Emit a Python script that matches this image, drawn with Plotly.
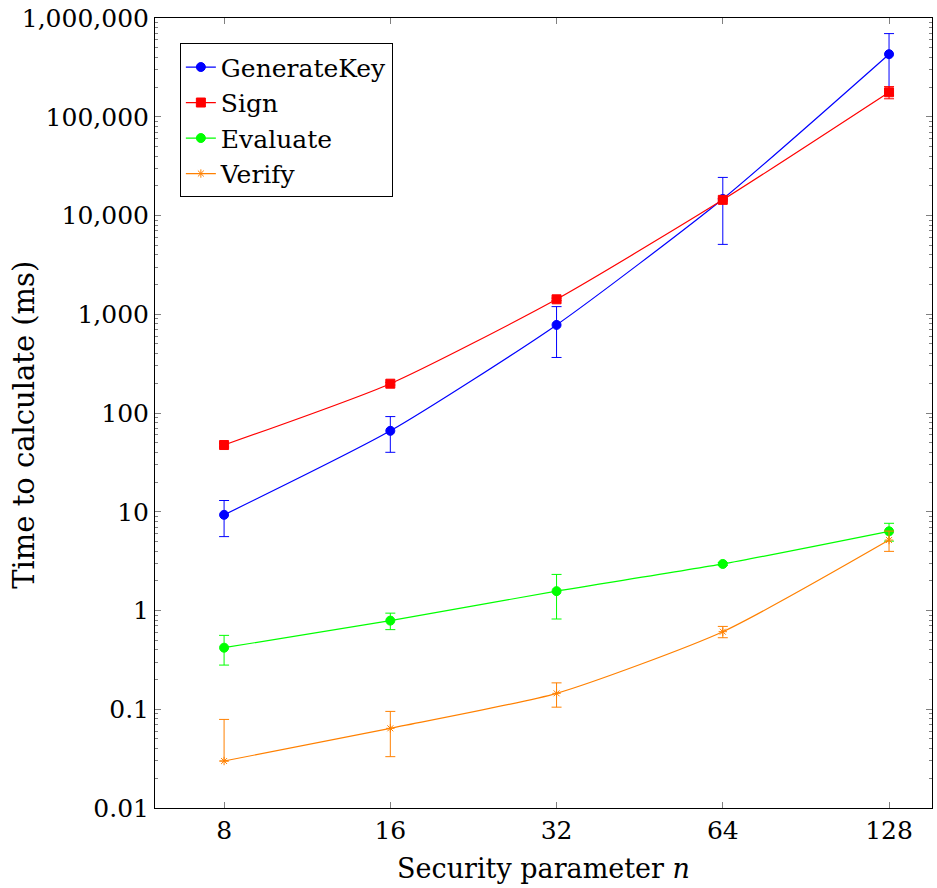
import plotly.graph_objects as go

n_vals = [8, 16, 32, 64, 128]

gen_key = [9.3, 66, 780, 14700, 430000]
gen_key_err = [3.7, 26, 415, 9600, 265000]

sign = [47.4, 198, 1417, 14400, 177000]
sign_err = [2, 6, 40, 400, 25000]

evaluate = [0.42, 0.79, 1.57, 2.96, 6.34]
evaluate_err = [0.14, 0.15, 0.75, 0.1, 1.3]

verify = [0.0299, 0.0641, 0.145, 0.61, 5.17]
verify_err_plus = [0.049, 0.031, 0.04, 0.08, 1.2]
verify_err_minus = [0.0, 0.031, 0.04, 0.08, 1.2]

y_tickvals = [0.01, 0.1, 1, 10, 100, 1000, 10000, 100000, 1000000]
y_ticktext = ["0.01", "0.1", "1", "10", "100", "1,000", "10,000", "100,000", "1,000,000"]

FONT = "DejaVu Serif"

fig = go.Figure()

def add(name, y, err, color, symbol, size, err_minus=None):
    ey = dict(type="data", array=err, visible=True, color=color,
              thickness=1, width=5)
    if err_minus is not None:
        ey["symmetric"] = False
        ey["arrayminus"] = err_minus
    fig.add_trace(go.Scatter(
        x=n_vals, y=y, name=name, mode="lines+markers",
        line=dict(color=color, width=1.2, shape="spline", smoothing=0.6),
        marker=dict(color=color, symbol=symbol, size=size,
                    line=dict(color=color, width=1)),
        error_y=ey,
    ))

add("GenerateKey", gen_key, gen_key_err, "#0000FF", "circle", 9)
add("Sign", sign, sign_err, "#FF0000", "square", 9)
add("Evaluate", evaluate, evaluate_err, "#00FF00", "circle", 9)
add("Verify", verify, verify_err_plus, "#FF8000", "asterisk-open", 7, verify_err_minus)

fig.update_layout(
    width=937, height=888,
    margin=dict(l=155, r=5, t=18, b=80, autoexpand=False),
    plot_bgcolor="white", paper_bgcolor="white",
    font=dict(family=FONT, size=24, color="black"),
    showlegend=True,
    legend=dict(x=0.032, y=0.968, xanchor="left", yanchor="top",
                bgcolor="white", bordercolor="black", borderwidth=1,
                font=dict(family=FONT, size=25, color="black"), tracegroupgap=0),
    annotations=[dict(
        text="Time to calculate (ms)", textangle=-90,
        xref="paper", yref="paper", x=-0.1686, y=0.485,
        xanchor="center", yanchor="middle", showarrow=False,
        font=dict(family=FONT, size=29, color="black"),
    )],
)

fig.update_xaxes(
    type="log", range=[0.778, 2.185],
    tickvals=n_vals, ticktext=[str(v) for v in n_vals],
    ticks="inside", ticklen=6, tickcolor="#808080",
    showline=True, linecolor="black", linewidth=1, mirror="ticks",
    showgrid=False, zeroline=False, automargin=False,
    title=dict(text="Security parameter <i>n</i>", font=dict(family=FONT, size=27)),
    tickfont=dict(family=FONT, size=25),
)

fig.update_yaxes(
    type="log", range=[-2, 6],
    tickvals=y_tickvals, ticktext=y_ticktext,
    ticks="inside", ticklen=6, tickcolor="#808080",
    minor=dict(ticks="inside", ticklen=3, tickcolor="#808080", dtick="D1", showgrid=False),
    showline=True, linecolor="black", linewidth=1, mirror="ticks",
    showgrid=False, zeroline=False, automargin=False,
    tickfont=dict(family=FONT, size=25),
)

fig.write_html("out.html")
